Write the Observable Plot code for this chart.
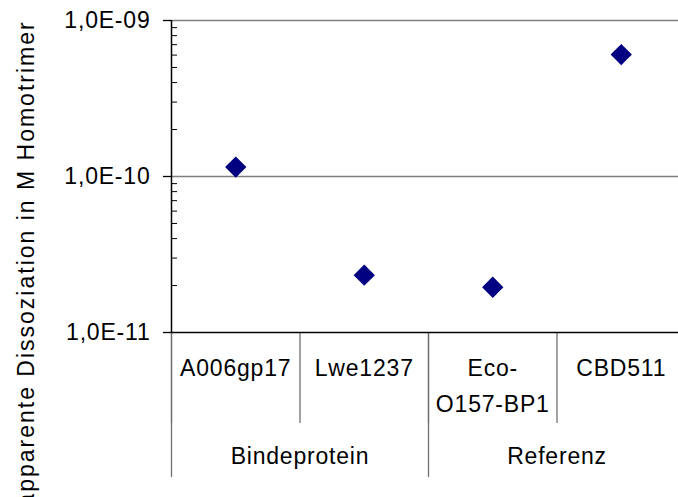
<!DOCTYPE html>
<html><head><meta charset="utf-8">
<script src="https://cdn.jsdelivr.net/npm/d3@7"></script>
<script src="https://cdn.jsdelivr.net/npm/@observablehq/plot@0.6"></script>
<style>body{margin:0;background:#fff}</style>
</head><body><div id="chart"></div>
<script>
const categories = ["A006gp17", "Lwe1237", "Eco-\nO157-BP1", "CBD511"];
const values = [1.15e-10, 2.33e-11, 1.95e-11, 6.05e-10];
const groups = ["Bindeprotein", "Referenz"];
const groupSizes = [2, 2];
const majorTicks = [1e-11, 1e-10, 1e-9];
const tickLabels = ["1,0E-11", "1,0E-10", "1,0E-09"];
const yLabel = "apparente Dissoziation in M Homotrimer";

const points = categories.map((c, i) => ({i: i + 0.5, v: values[i], label: c}));
const minor = [];
for (const d of majorTicks.slice(0, -1)) for (let k = 2; k <= 9; k++) minor.push(k * d);
const boundaries = d3.range(categories.length + 1);
const groupBounds = [0, ...d3.cumsum(groupSizes)];
const groupLabels = groups.map((g, j) => ({x: (groupBounds[j] + groupBounds[j + 1]) / 2, g}));

const svg = Plot.plot({
  width: 678, height: 497,
  marginTop: 20, marginBottom: 165, marginLeft: 171, marginRight: 0,
  x: {type: "linear", domain: [0, categories.length], range: [171, 685], axis: null},
  y: {type: "log", domain: [1e-11, 1e-9], axis: null},
  style: {fontFamily: "'Liberation Sans', Arial, sans-serif", fontSize: "23px", color: "#000", background: "#fff"},
  marks: [
    Plot.ruleY(majorTicks.slice(1), {stroke: "#808080", strokeWidth: 1.5}),
    Plot.axisX(boundaries, {anchor: "bottom", label: null, tickSize: 91, tickFormat: () => "", stroke: "#707070", strokeWidth: 1.3}),
    Plot.axisX(groupBounds, {anchor: "bottom", label: null, tickSize: 145, tickFormat: () => "", stroke: "#707070", strokeWidth: 1.3}),
    Plot.ruleY([majorTicks[0]], {stroke: "#000", strokeWidth: 1.5}),
    Plot.ruleX([0], {stroke: "#000", strokeWidth: 1.5}),
    Plot.axisY(majorTicks, {anchor: "left", label: null, tickSize: 8, tickPadding: 13, tickFormat: d => tickLabels[majorTicks.indexOf(d)], stroke: "#000", strokeWidth: 1.3, fontSize: 23}),
    Plot.axisY(minor, {anchor: "left", label: null, tickSize: -6, tickFormat: () => "", stroke: "#000", strokeWidth: 1}),
    Plot.text(points, {x: "i", text: "label", frameAnchor: "bottom", lineAnchor: "top", dy: 17, lineHeight: 1.6, fontSize: 23}),
    Plot.text(groupLabels, {x: "x", text: "g", frameAnchor: "bottom", lineAnchor: "top", dy: 115, fontSize: 23}),
    Plot.dot(points, {x: "i", y: "v", symbol: "diamond2", r: 9.6, fill: "#000080", stroke: null}),
    Plot.text([yLabel], {text: d => d, frameAnchor: "left", textAnchor: "middle", rotate: -90, dx: -145, dy: 87, fontSize: 23})
  ]
});
d3.select(svg).selectAll("text").each(function() {
  const t = this.textContent;
  this.setAttribute("letter-spacing", t === yLabel ? "2px" : "0.8px");
});
document.getElementById("chart").appendChild(svg);
</script>
</body></html>
